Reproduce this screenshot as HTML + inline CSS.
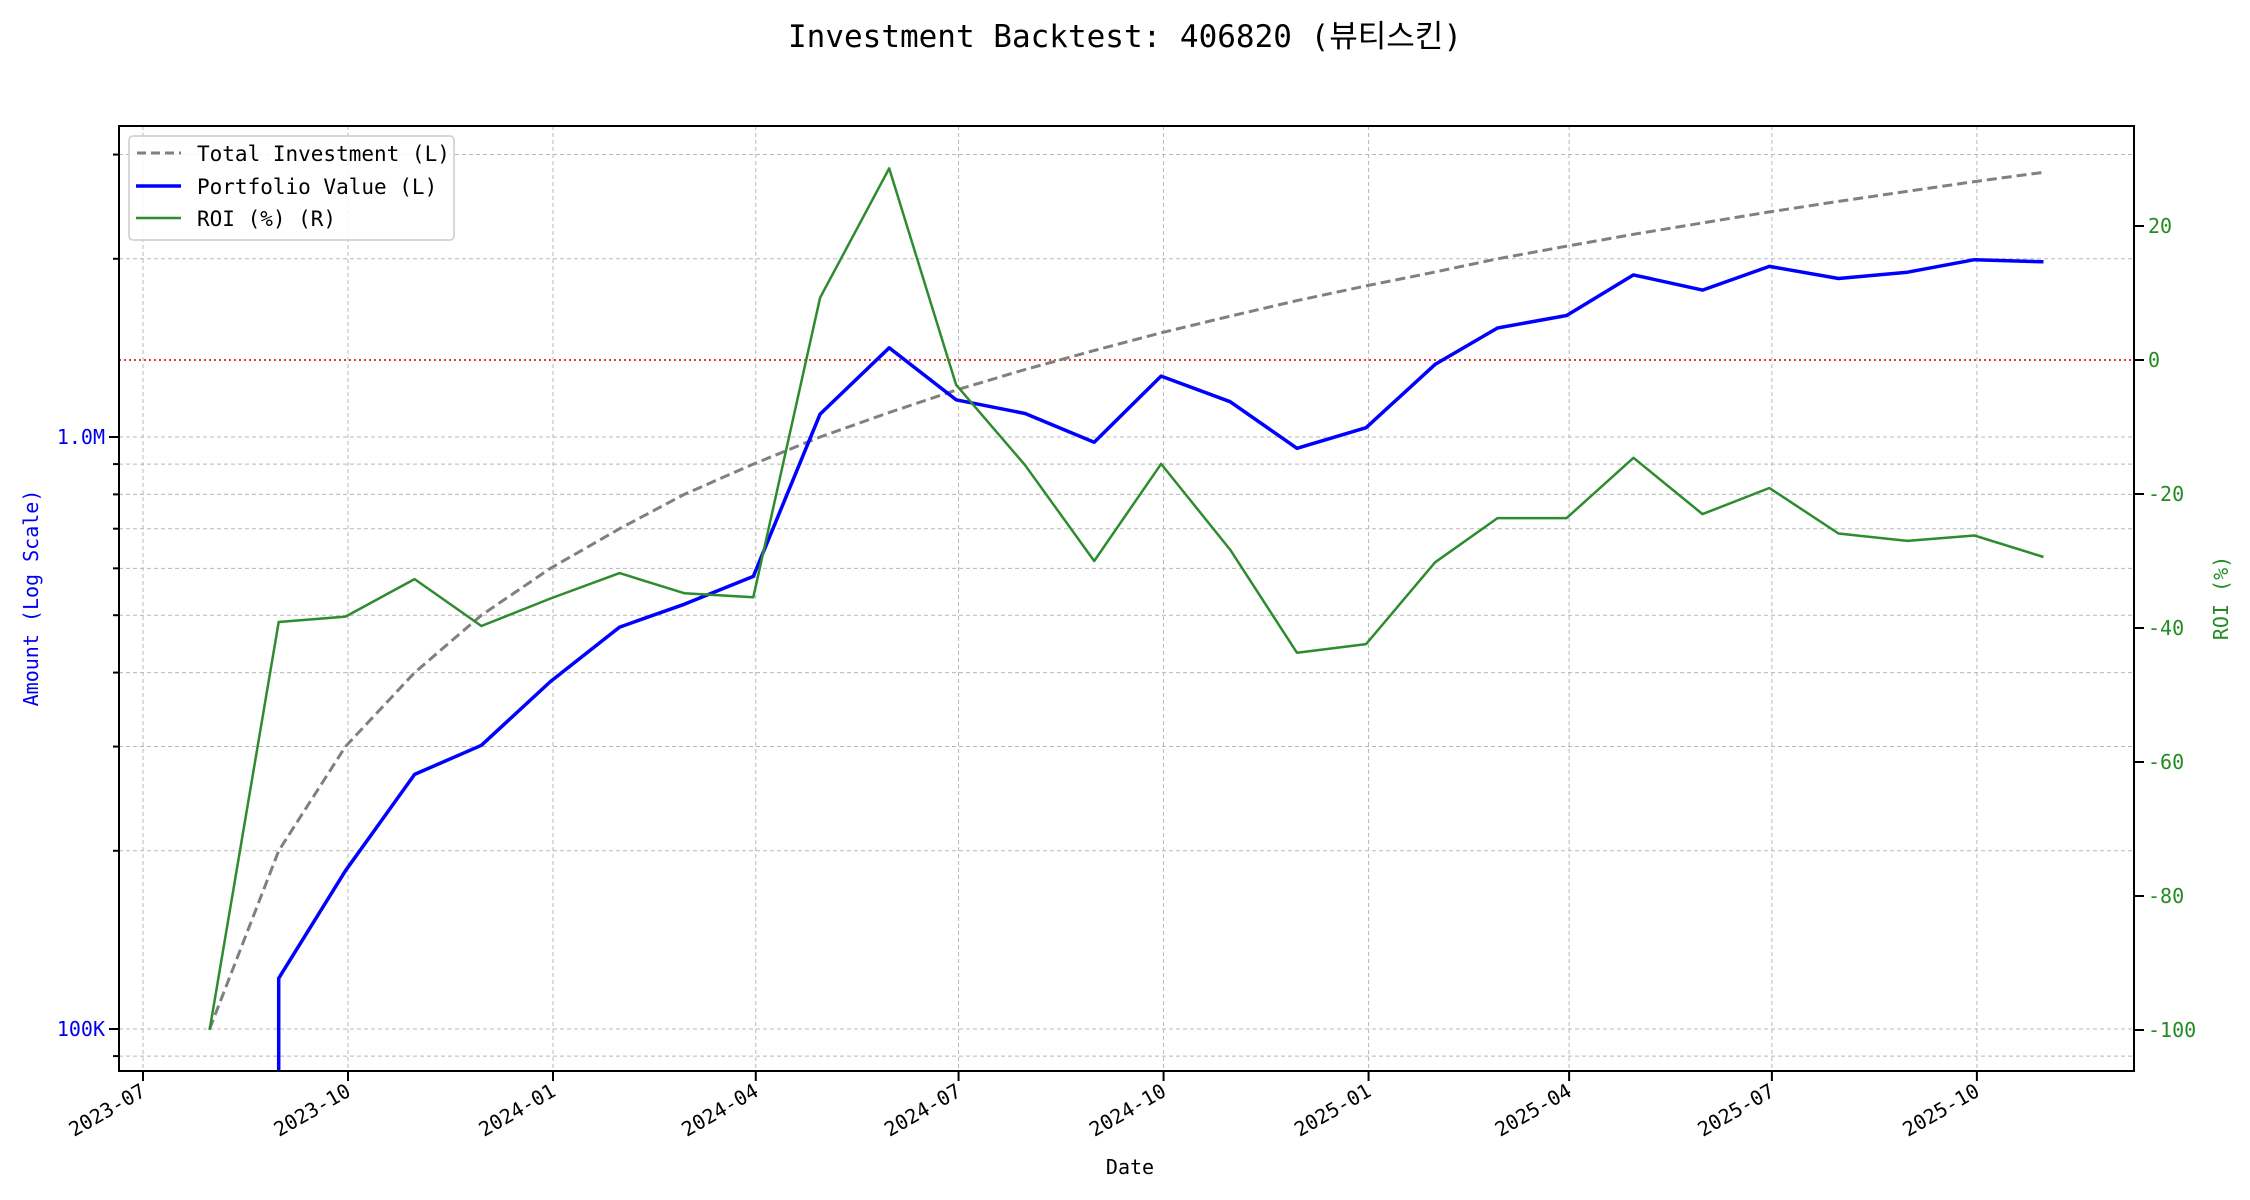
<!DOCTYPE html>
<html><head><meta charset="utf-8"><style>
html,body{margin:0;padding:0;background:#fff;}
svg{display:block;font-family:"DejaVu Sans Mono","Liberation Mono","Noto Sans CJK KR",monospace;}
</style></head><body>
<svg id="c" width="2250" height="1200" viewBox="0 0 2250 1200" xmlns="http://www.w3.org/2000/svg">
<text x="1125" y="47" text-anchor="middle" font-size="31" fill="#000" font-family="DejaVu Sans Mono, Noto Sans CJK KR, monospace">Investment Backtest: 406820 (뷰티스킨)</text>
<g id="grid"></g>
<g id="series"></g>
<rect x="119" y="126" width="2015" height="945" fill="none" stroke="#000" stroke-width="2"/>
<g id="ticks"></g>
<text x="1130" y="1174" text-anchor="middle" font-size="20">Date</text>
<text transform="translate(38,598) rotate(-90)" text-anchor="middle" font-size="20" fill="#0000ee">Amount (Log Scale)</text>
<text transform="translate(2228,598) rotate(-90)" text-anchor="middle" font-size="20" fill="#228b22">ROI (%)</text>
<g>
<rect x="129" y="136" width="325" height="104" rx="4" fill="#fff" fill-opacity="0.85" stroke="#ccc" stroke-width="1.5"/>
<line x1="137" y1="153" x2="181" y2="153" stroke="#808080" stroke-width="3" stroke-dasharray="9,5"/>
<line x1="136" y1="186" x2="181" y2="186" stroke="#0000ff" stroke-width="3.5"/>
<line x1="136" y1="218" x2="181" y2="218" stroke="#2e8b2e" stroke-width="2.5"/>
<text x="197" y="161" font-size="21">Total Investment (L)</text>
<text x="197" y="194" font-size="21">Portfolio Value (L)</text>
<text x="197" y="226" font-size="21">ROI (%) (R)</text>
</g>
</svg>
<script>
var NS="http://www.w3.org/2000/svg";
function el(p,t,a,txt){var e=document.createElementNS(NS,t);for(var k in a)e.setAttribute(k,a[k]);if(txt!=null)e.textContent=txt;document.getElementById(p).appendChild(e);return e;}
var L=119,R=2134,T=126,B=1071;
function X(d){return 143+2.2283*d;}
function XD(d){return 140.5+2.2283*d;}
function YL(v){return 1029-592*(Math.log10(v)-5);}
function YR(r){return 360-6.7*r;}
var vals=[90000,100000,200000,300000,400000,500000,600000,700000,800000,900000,1000000,2000000,3000000];
vals.forEach(function(v){var y=YL(v);
 el("grid","line",{x1:L,x2:R,y1:y,y2:y,stroke:"#b8b8b8","stroke-width":1,"stroke-dasharray":"4,3"});
 var major=(v==100000||v==1000000);
 el("ticks","line",{x1:L-(major?10:6),x2:L,y1:y,y2:y,stroke:"#000","stroke-width":2});
});
el("ticks","text",{x:105,y:YL(100000)+7,"text-anchor":"end","font-size":20,fill:"#0000ee"},"100K");
el("ticks","text",{x:105,y:YL(1000000)+7,"text-anchor":"end","font-size":20,fill:"#0000ee"},"1.0M");
var xt=[[0,"2023-07"],[92,"2023-10"],[184,"2024-01"],[275,"2024-04"],[366,"2024-07"],[458,"2024-10"],[550,"2025-01"],[640,"2025-04"],[731,"2025-07"],[823,"2025-10"]];
xt.forEach(function(t){var x=X(t[0]);
 el("grid","line",{x1:x,x2:x,y1:T,y2:B,stroke:"#b8b8b8","stroke-width":1,"stroke-dasharray":"4,3"});
 el("ticks","line",{x1:x,x2:x,y1:B,y2:B+10,stroke:"#000","stroke-width":2});
 el("ticks","text",{x:0,y:0,"text-anchor":"end","font-size":20,transform:"translate("+(x+4)+","+(B+24)+") rotate(-30)"},t[1]);
});
[20,0,-20,-40,-60,-80,-100].forEach(function(r){var y=YR(r);
 el("ticks","line",{x1:R,x2:R+10,y1:y,y2:y,stroke:"#000","stroke-width":2});
 el("ticks","text",{x:R+14,y:y+7,"font-size":20,fill:"#228b22"},String(r));
});
el("series","line",{x1:L,x2:R,y1:YR(0),y2:YR(0),stroke:"#d62020","stroke-width":1.8,"stroke-dasharray":"2,3"});
var days=[31,62,92,123,153,184,215,244,275,305,336,366,397,428,458,489,519,550,581,609,640,670,701,731,762,793,823,854];
var roi=[-100,-39.1,-38.3,-32.7,-39.7,-35.6,-31.8,-34.8,-35.4,9.3,28.6,-3.7,-15.7,-30.0,-15.5,-28.3,-43.7,-42.4,-30.2,-23.6,-23.6,-14.6,-23.0,-19.1,-25.9,-27.0,-26.2,-29.4];
var ti=[],pv=[],rp=[];
days.forEach(function(d,i){var x=XD(d).toFixed(1);var tot=100000*(i+1);
 ti.push(x+","+YL(tot).toFixed(1));
 rp.push(x+","+YR(roi[i]).toFixed(1));
 if(i>0)pv.push(x+","+YL(tot*(1+roi[i]/100)).toFixed(1));
});
pv.unshift(XD(62).toFixed(1)+","+B);
el("series","polyline",{points:ti.join(" "),fill:"none",stroke:"#808080","stroke-width":3,"stroke-dasharray":"10,5"});
el("series","polyline",{points:pv.join(" "),fill:"none",stroke:"#0000ff","stroke-width":3.5,"stroke-linejoin":"round"});
el("series","polyline",{points:rp.join(" "),fill:"none",stroke:"#2e8b2e","stroke-width":2.5,"stroke-linejoin":"round"});
</script>
</body></html>
